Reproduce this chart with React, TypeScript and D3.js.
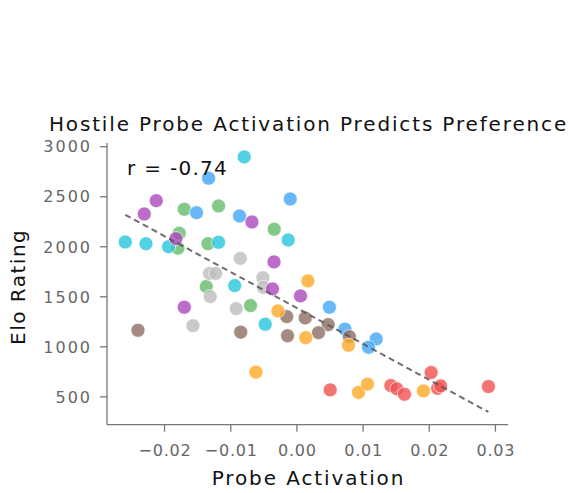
import React from "react";
import * as d3 from "d3";

const W = 568;
const H = 493;

type Pt = [number, number];

const cyanPts: Pt[] = [[-0.00796, 2898], [-0.02594, 2048], [-0.02281, 2031], [-0.0194, 2001], [-0.01184, 2045], [-0.00131, 2068], [-0.0094, 1612], [-0.00479, 1226]];
const bluePts: Pt[] = [[-0.01335, 2685], [-0.01517, 2341], [-0.00867, 2308], [-0.00101, 2478], [0.00491, 1396], [0.00725, 1177], [0.01198, 1079], [0.01082, 996]];
const purplePts: Pt[] = [[-0.02125, 2461], [-0.02307, 2328], [-0.01828, 2081], [-0.0068, 2248], [-0.00346, 1849], [-0.00369, 1579], [0.00054, 1509], [-0.01702, 1396]];
const greenPts: Pt[] = [[-0.01702, 2375], [-0.01184, 2408], [-0.01778, 2135], [-0.01798, 1986], [-0.01344, 2031], [-0.00343, 2175], [-0.0137, 1602], [-0.00701, 1412]];
const grayPts: Pt[] = [[-0.00856, 1884], [-0.0132, 1734], [-0.01227, 1734], [-0.00514, 1691], [-0.00505, 1594], [-0.0131, 1502], [-0.00917, 1382], [-0.01571, 1212]];
const brownPts: Pt[] = [[-0.02402, 1166], [-0.00849, 1147], [-0.00154, 1302], [0.00125, 1289], [0.00473, 1222], [0.00326, 1142], [0.00793, 1102], [-0.00142, 1111]];
const orangePts: Pt[] = [[0.00166, 1659], [-0.00287, 1359], [0.00133, 1092], [0.00779, 1016], [-0.00619, 747], [0.00931, 545], [0.01066, 627], [0.01912, 560]];
const redPts: Pt[] = [[0.00503, 570], [0.0142, 613], [0.01511, 580], [0.01625, 527], [0.02029, 743], [0.02127, 585], [0.02172, 610], [0.02894, 603]];

const groups: { color: string; pts: Pt[] }[] = [
  { color: "#66bb6a", pts: greenPts },
  { color: "#bdbdbd", pts: grayPts },
  { color: "#26c6da", pts: cyanPts },
  { color: "#ab47bc", pts: purplePts },
  { color: "#42a5f5", pts: bluePts },
  { color: "#8d6e63", pts: brownPts },
  { color: "#ffa726", pts: orangePts },
  { color: "#ef5350", pts: redPts },
];

const xTicks = [-0.02, -0.01, 0.0, 0.01, 0.02, 0.03];
const yTicks = [500, 1000, 1500, 2000, 2500, 3000];
const fitSlope = -35900;
const fitIntercept = 1388;
const rLabel = "r = -0.74";

const FONT = "DejaVu Sans, sans-serif";

export default function App() {
  const x = d3.scaleLinear().domain([-0.0287, 0.0319]).range([107, 508]);
  const y = d3.scaleLinear().domain([222, 3037]).range([424.7, 143]);
  const all = groups.flatMap((g) => g.pts);
  const xMin = d3.min(all, (d) => d[0]) as number;
  const xMax = d3.max(all, (d) => d[0]) as number;
  const fitLine = d3.line<number>()
    .x((v) => x(v))
    .y((v) => y(fitIntercept + fitSlope * v))([xMin, xMax]);
  const fmt = d3.format(".2f");
  const [x0, x1] = x.range();
  const [y0, y1] = y.range();

  return (
    <svg width={W} height={H} style={{ position: "absolute", left: 0, top: 0, background: "#fff" }} fontFamily={FONT}>
      <text x={(x0 + x1) / 2 + 1} y={131} textAnchor="middle" fontSize={20} letterSpacing={1.85} fill="#111">
        Hostile Probe Activation Predicts Preference
      </text>
      {/* axes */}
      <line x1={x0} x2={x0} y1={y1} y2={y0} stroke="#777" strokeWidth={1.3} />
      <line x1={x0} x2={x1} y1={y0} y2={y0} stroke="#777" strokeWidth={1.3} />
      {yTicks.map((t) => (
        <g key={"y" + t}>
          <line x1={x0 - 7} x2={x0} y1={y(t)} y2={y(t)} stroke="#777" strokeWidth={1.3} />
          <text x={x0 - 15} y={y(t)} dy="0.36em" textAnchor="end" fontSize={16} letterSpacing={2} fill="#666">
            {t}
          </text>
        </g>
      ))}
      {xTicks.map((t) => (
        <g key={"x" + t}>
          <line x1={x(t)} x2={x(t)} y1={y0} y2={y0 + 7} stroke="#777" strokeWidth={1.3} />
          <text x={x(t) + 0.5} y={456} textAnchor="middle" fontSize={16} letterSpacing={0.8} fill="#666">
            {fmt(t)}
          </text>
        </g>
      ))}
      <text x={(x0 + x1) / 2 + 1} y={485} textAnchor="middle" fontSize={20} letterSpacing={1.9} fill="#111">
        Probe Activation
      </text>
      <text transform={`translate(25,${(y0 + y1) / 2 + 3}) rotate(-90)`} textAnchor="middle" fontSize={20} letterSpacing={1.5} fill="#111">
        Elo Rating
      </text>
      {/* points */}
      {groups.map((g) =>
        g.pts.map((p, i) => (
          <circle key={g.color + i} cx={x(p[0])} cy={y(p[1])} r={7} fill={g.color} fillOpacity={0.8} stroke="#fff" strokeOpacity={0.8} strokeWidth={0.8} />
        ))
      )}
      <path d={fitLine ?? ""} fill="none" stroke="#555" strokeOpacity={0.85} strokeWidth={2} strokeDasharray="6,4" />
      <text x={127} y={175} fontSize={20} letterSpacing={1.3} fill="#111">
        {rLabel}
      </text>
    </svg>
  );
}
